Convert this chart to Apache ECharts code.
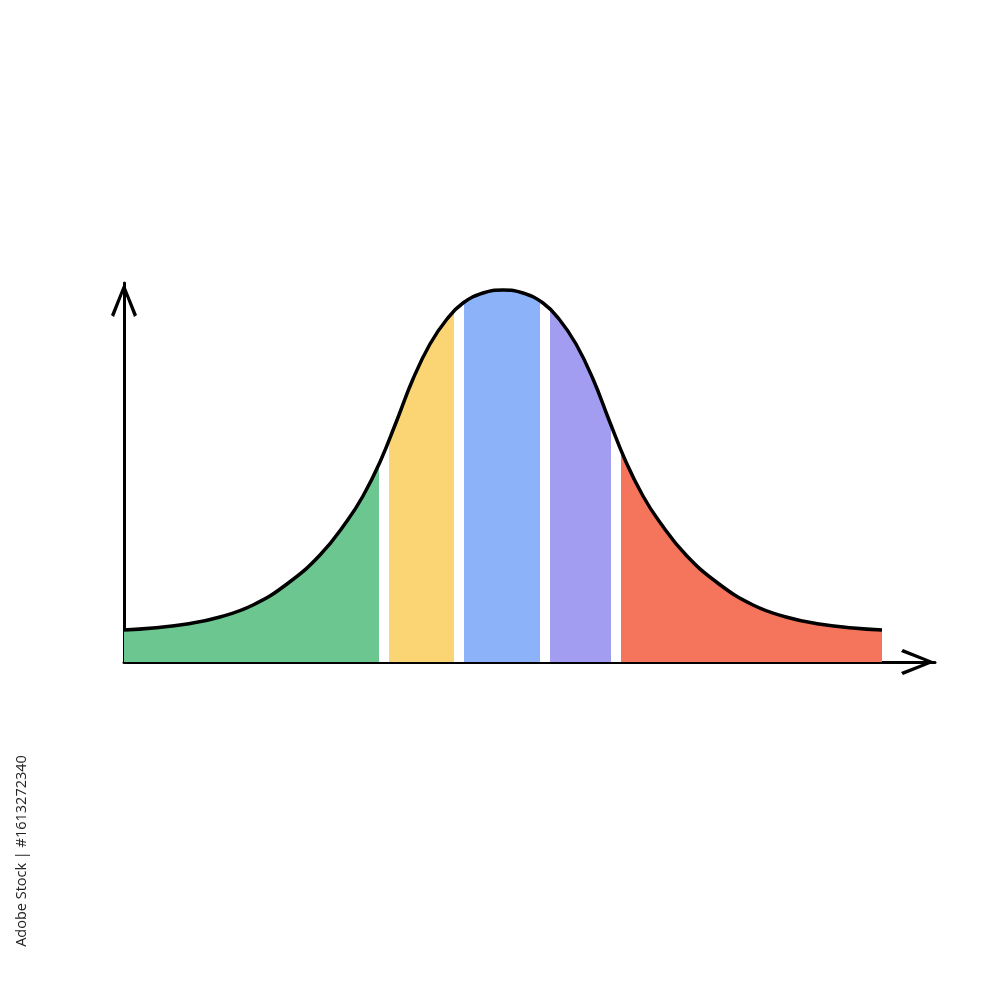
<!DOCTYPE html>
<html><head><meta charset="utf-8">
<script src="https://cdn.jsdelivr.net/npm/echarts@6/dist/echarts.min.js"></script>
<style>html,body{margin:0;background:#fff}#c{width:1000px;height:1000px}</style>
</head><body><div id="c"></div>
<script>
// Curve samples (x in sigma-like units, y height)
const curveX = [-3.79,-3.50,-3.16,-2.83,-2.50,-2.16,-1.83,-1.56,-1.40,-1.23,-1.06,-0.90,-0.73,-0.56,-0.40,-0.20,0.00,0.20,0.40,0.56,0.73,0.90,1.06,1.23,1.40,1.56,1.83,2.16,2.50,2.83,3.16,3.50,3.79];
const curveY = [0.32,0.34,0.38,0.45,0.57,0.78,1.07,1.41,1.66,2.00,2.42,2.83,3.18,3.43,3.59,3.69,3.72,3.69,3.59,3.43,3.18,2.83,2.42,2.00,1.66,1.41,1.07,0.78,0.57,0.45,0.38,0.34,0.32];
// Coloured bands (x ranges)
const bandStart = [-3.79, -1.14, -0.39, 0.47, 1.18];
const bandEnd   = [-1.24, -0.49, 0.37, 1.08, 3.79];
const bandColors = ['#6CC68F', '#FBD473', '#8CB2FA', '#A29DF0', '#F5745C'];
const stockText = 'Adobe Stock | #1613272340';

const data = curveX.map((x, i) => [x, curveY[i]]);
const pieces = [];
for (let i = 0; i < bandStart.length; i++) {
  const p = { color: bandColors[i] };
  if (i > 0) p.gte = bandStart[i];
  if (i < bandStart.length - 1) p.lt = bandEnd[i];
  pieces.push(p);
  if (i < bandStart.length - 1) pieces.push({ gte: bandEnd[i], lt: bandStart[i + 1], color: '#ffffff' });
}
const chevron = 'path://M13,0 L26,32 L23,34 L13,8 L3,34 L0,32 Z';
const axisLine = { show: true, onZero: false, lineStyle: { color: '#000', width: 3 },
  symbol: ['none', chevron], symbolSize: [26, 34], symbolOffset: [0, -17] };

const chart = echarts.init(document.getElementById('c'), null, { renderer: 'canvas' });
chart.setOption({
  backgroundColor: '#ffffff',
  animation: false,
  grid: { left: 124, right: 65, top: 283, bottom: 338 },
  xAxis: { type: 'value', min: -3.79, max: 4.32, axisLine: axisLine,
    axisTick: { show: false }, axisLabel: { show: false }, splitLine: { show: false } },
  yAxis: { type: 'value', min: 0, max: 3.79, axisLine: axisLine,
    axisTick: { show: false }, axisLabel: { show: false }, splitLine: { show: false } },
  visualMap: { show: false, type: 'piecewise', dimension: 0, seriesIndex: 0, pieces: pieces },
  series: [
    { type: 'line', data: data, smooth: 0.45, symbol: 'none', lineStyle: { width: 0 },
      areaStyle: { opacity: 1 }, z: 1 },
    { type: 'line', data: data, smooth: 0.45, symbol: 'none',
      lineStyle: { color: '#000', width: 3.5 }, z: 3 }
  ],
  graphic: [{ type: 'text', x: 22, y: 851, rotation: Math.PI / 2,
    style: { text: stockText, font: '14.5px "Open Sans"', fill: '#222222', align: 'center', verticalAlign: 'middle' } }]
});
</script></body></html>
